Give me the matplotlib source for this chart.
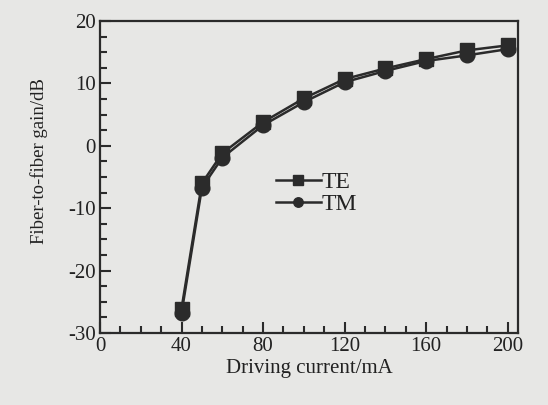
import matplotlib.pyplot as plt
from matplotlib.ticker import MultipleLocator

# driving current (mA) and gain (dB) for both polarisations
current = [40, 50, 60, 80, 100, 120, 140, 160, 180, 200]
gain_te = [-26.1, -6.0, -1.2, 3.8, 7.6, 10.7, 12.4, 13.9, 15.3, 16.1]
gain_tm = [-26.8, -6.7, -1.9, 3.3, 7.0, 10.2, 12.0, 13.6, 14.5, 15.5]

plt.rcParams['font.family'] = ['Liberation Serif', 'DejaVu Serif']
plt.rcParams['axes.unicode_minus'] = False

bg = '#e7e7e5'
ink = '#2b2b2b'

fig = plt.figure(figsize=(5.48, 4.05), dpi=100, facecolor=bg)
ax = fig.add_axes([0.1825, 0.178, 0.7625, 0.77], facecolor=bg)

ax.plot(current, gain_te, '-s', color=ink, lw=1.8, ms=10, label='TE')
ax.plot(current, gain_tm, '-o', color=ink, lw=1.8, ms=10.5, label='TM')

ax.set_xlim(0, 205)
ax.set_ylim(-30, 20)
ax.xaxis.set_major_locator(MultipleLocator(40))
ax.xaxis.set_minor_locator(MultipleLocator(10))
ax.yaxis.set_major_locator(MultipleLocator(10))
ax.yaxis.set_minor_locator(MultipleLocator(2.5))

ax.tick_params(which='both', direction='in', color=ink, width=1.5,
               top=False, right=False, labelsize=15, labelcolor='#222222')
ax.tick_params(which='major', length=8, pad=3)
ax.tick_params(which='minor', length=5)
for s in ax.spines.values():
    s.set_color(ink)
    s.set_linewidth(1.6)

ax.set_xlabel('Driving current/mA', fontsize=15, color='#222222', labelpad=2)
ax.set_ylabel('Fiber-to-fiber gain/dB', fontsize=13.5, color='#222222')
ax.yaxis.set_label_coords(-0.125, 0.55)

leg = ax.legend(loc='upper left', bbox_to_anchor=(0.37, 0.585), frameon=False,
                fontsize=17, handlelength=1.9, handletextpad=0.05,
                labelspacing=0.0, markerscale=0.65)
for t in leg.get_texts():
    t.set_color('#222222')

fig.savefig('out.png', dpi=100, facecolor=bg)
